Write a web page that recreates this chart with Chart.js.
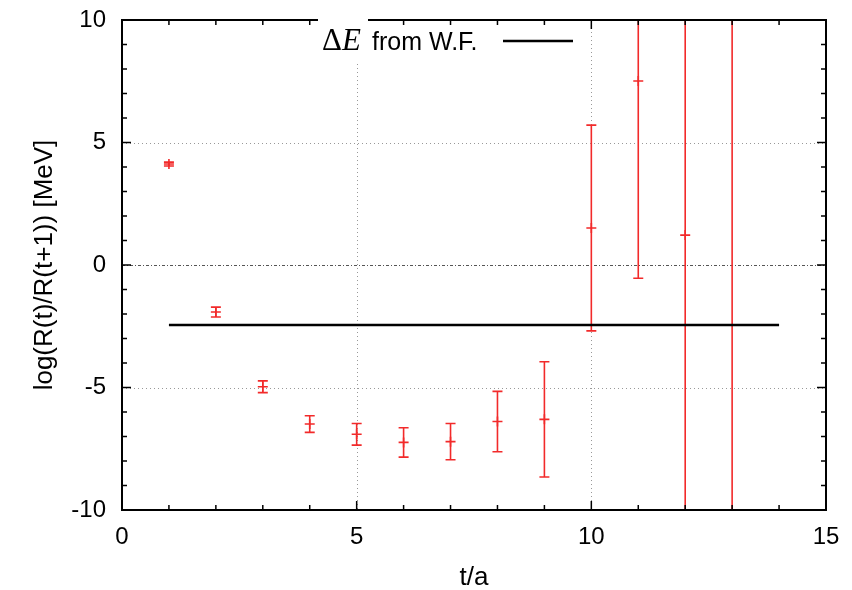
<!DOCTYPE html>
<html>
<head>
<meta charset="utf-8">
<script src="https://cdn.jsdelivr.net/npm/chart.js@4.4.0/dist/chart.umd.min.js"></script>
<style>
  html, body { margin: 0; padding: 0; background: #fff; }
</style>
</head>
<body>
<canvas id="myChart" width="852" height="590"></canvas>
<script>
// Data
const tValues = [1, 2, 3, 4, 5, 6, 7, 8, 9, 10, 11, 12, 13];
const ratioValues = [4.12, -1.92, -4.97, -6.49, -6.91, -7.24, -7.21, -6.39, -6.30, 1.51, 7.51, 1.22, 14.0];
const ratioErrors = [0.08, 0.20, 0.24, 0.34, 0.44, 0.60, 0.74, 1.23, 2.35, 4.20, 8.05, 14.0, 30.0];
const fitX = [1, 14];
const fitY = [-2.45, -2.45];
const xRange = [0, 15];
const yRange = [-10, 10];

const RED = '#f22a2a';
const FONT = "'Liberation Sans', Arial, sans-serif";

// Error bars, drawn through the scales
const errorBars = {
    id: 'errorBars',
    beforeDatasetsDraw(chart) {
        const ctx = chart.ctx, a = chart.chartArea;
        const xs = chart.scales.x, ys = chart.scales.y;
        ctx.save();
        ctx.beginPath();
        ctx.rect(a.left, a.top, a.right - a.left, a.bottom - a.top);
        ctx.clip();
        ctx.strokeStyle = RED;
        ctx.lineWidth = 1.6;
        tValues.forEach((t, i) => {
            const x = xs.getPixelForValue(t);
            const yTop = ys.getPixelForValue(ratioValues[i] + ratioErrors[i]);
            const yBot = ys.getPixelForValue(ratioValues[i] - ratioErrors[i]);
            ctx.beginPath();
            ctx.moveTo(x, yTop);
            ctx.lineTo(x, yBot);
            ctx.moveTo(x - 5, yTop);
            ctx.lineTo(x + 5, yTop);
            ctx.moveTo(x - 5, yBot);
            ctx.lineTo(x + 5, yBot);
            ctx.stroke();
        });
        ctx.restore();
    }
};

// gnuplot-like frame: dotted grid, mirrored inward ticks, zero axis
const frame = {
    id: 'frame',
    beforeDatasetsDraw(chart) {
        const ctx = chart.ctx, a = chart.chartArea;
        const xs = chart.scales.x, ys = chart.scales.y;
        ctx.save();
        ctx.lineWidth = 1;
        ctx.strokeStyle = '#999';
        ctx.setLineDash([1, 3]);
        xs.ticks.forEach(tk => {
            if (tk.value <= xRange[0] || tk.value >= xRange[1]) return;
            const x = Math.round(xs.getPixelForValue(tk.value)) + 0.5;
            ctx.beginPath(); ctx.moveTo(x, a.top); ctx.lineTo(x, a.bottom); ctx.stroke();
        });
        ys.ticks.forEach(tk => {
            if (tk.value <= yRange[0] || tk.value >= yRange[1]) return;
            const y = Math.round(ys.getPixelForValue(tk.value)) + 0.5;
            if (tk.value === 0) {
                ctx.strokeStyle = '#555';
                ctx.setLineDash([3, 2, 1, 2]);
            } else {
                ctx.strokeStyle = '#999';
                ctx.setLineDash([1, 3]);
            }
            ctx.beginPath(); ctx.moveTo(a.left, y); ctx.lineTo(a.right, y); ctx.stroke();
        });
        ctx.restore();
    },
    afterDatasetsDraw(chart) {
        const ctx = chart.ctx, a = chart.chartArea;
        const xs = chart.scales.x, ys = chart.scales.y;
        ctx.save();
        ctx.strokeStyle = '#000';
        ctx.lineWidth = 1.5;
        for (let v = xRange[0] + 1; v < xRange[1]; v++) {
            const x = xs.getPixelForValue(v);
            const len = v % 5 === 0 ? 9 : 5;
            ctx.beginPath();
            ctx.moveTo(x, a.bottom); ctx.lineTo(x, a.bottom - len);
            ctx.moveTo(x, a.top); ctx.lineTo(x, a.top + len);
            ctx.stroke();
        }
        for (let v = yRange[0] + 1; v < yRange[1]; v++) {
            const y = ys.getPixelForValue(v);
            const len = v % 5 === 0 ? 9 : 5;
            ctx.beginPath();
            ctx.moveTo(a.left, y); ctx.lineTo(a.left + len, y);
            ctx.moveTo(a.right, y); ctx.lineTo(a.right - len, y);
            ctx.stroke();
        }
        ctx.lineWidth = 2;
        ctx.strokeRect(a.left, a.top, a.right - a.left, a.bottom - a.top);
        ctx.restore();
    },
    afterDraw(chart) {
        // key: "ΔE from W.F." with a line sample
        const ctx = chart.ctx;
        ctx.save();
        ctx.fillStyle = '#fff';
        ctx.fillRect(318, 17, 50, 44);
        ctx.fillStyle = '#000';
        ctx.textBaseline = 'alphabetic';
        ctx.textAlign = 'left';
        ctx.font = "31px 'Liberation Serif', 'Times New Roman', serif";
        ctx.fillText('\u0394', 322, 50);
        const dw = ctx.measureText('\u0394').width;
        ctx.font = "italic 31px 'Liberation Serif', 'Times New Roman', serif";
        ctx.fillText('E', 322 + dw, 50);
        ctx.font = '25px ' + FONT;
        ctx.fillText('from W.F.', 372, 50);
        ctx.strokeStyle = '#000';
        ctx.lineWidth = 2.5;
        ctx.beginPath();
        ctx.moveTo(503, 41); ctx.lineTo(573, 41);
        ctx.stroke();
        ctx.restore();
    }
};

const data = {
    datasets: [{
        label: 'ratio',
        data: tValues.map((t, i) => ({ x: t, y: ratioValues[i] })),
        showLine: false,
        pointStyle: 'cross',
        pointRadius: 5,
        borderColor: RED,
        backgroundColor: RED,
        pointBorderWidth: 1.6
    }, {
        label: '\u0394E from W.F.',
        data: fitX.map((x, i) => ({ x: x, y: fitY[i] })),
        showLine: true,
        pointRadius: 0,
        borderColor: '#000',
        borderWidth: 2.5
    }]
};

const config = {
    type: 'scatter',
    data: data,
    options: {
        responsive: false,
        animation: false,
        layout: { padding: { left: 0, right: 26, top: 20, bottom: 0 } },
        plugins: {
            legend: { display: false },
            tooltip: { enabled: false }
        },
        scales: {
            x: {
                type: 'linear',
                min: xRange[0],
                max: xRange[1],
                grid: { display: false, drawTicks: false },
                border: { display: false },
                ticks: { stepSize: 5, color: '#000', padding: 13, font: { family: FONT, size: 24 } },
                title: { display: true, text: 't/a', color: '#000', padding: { top: 0, bottom: -3 }, font: { family: FONT, size: 26 } },
                afterFit(scale) {
                    scale.height = 80;
                    scale.paddingLeft = 0;
                    scale.paddingRight = 0;
                }
            },
            y: {
                type: 'linear',
                min: yRange[0],
                max: yRange[1],
                grid: { display: false, drawTicks: false },
                border: { display: false },
                ticks: { stepSize: 5, color: '#000', padding: 16, font: { family: FONT, size: 24 } },
                title: { display: true, text: 'log(R(t)/R(t+1)) [MeV]', color: '#000', padding: { top: 29, bottom: 0 }, font: { family: FONT, size: 26 } },
                afterFit(scale) {
                    scale.width = 122;
                    scale.paddingTop = 0;
                    scale.paddingBottom = 0;
                }
            }
        }
    },
    plugins: [frame, errorBars]
};

var myChart = new Chart(document.getElementById('myChart'), config);
</script>
</body>
</html>
